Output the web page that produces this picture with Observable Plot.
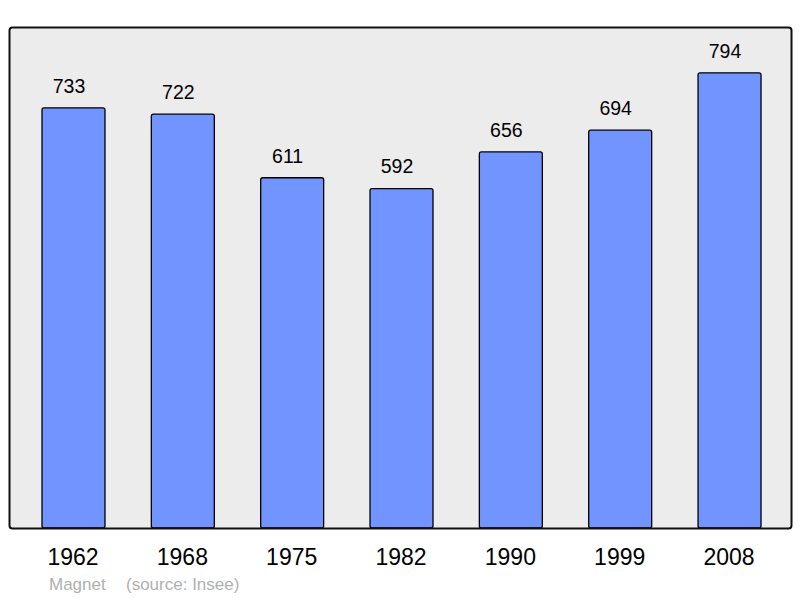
<!DOCTYPE html>
<html>
<head>
<meta charset="utf-8">
<script src="https://cdn.jsdelivr.net/npm/d3@7"></script>
<script src="https://cdn.jsdelivr.net/npm/@observablehq/plot@0.6"></script>
<style>
  body { margin: 0; background: #fff; font-family: "Liberation Sans", Arial, sans-serif; }
  #chart svg { display: block; }
  #caption { position: relative; height: 28px; color: #b0b0b0; font-size: 17px; white-space: pre; }
  #caption span { position: absolute; top: 5px; }
</style>
</head>
<body>
<div id="chart"></div>
<div id="caption"><span style="left:49px">Magnet</span><span style="left:126px">(source: Insee)</span></div>
<script>
const years = ["1962", "1968", "1975", "1982", "1990", "1999", "2008"];
const population = [733, 722, 611, 592, 656, 694, 794];

const data = years.map((y, i) => ({year: y, pop: population[i]}));

const chart = Plot.plot({
  width: 800,
  height: 570,
  marginTop: 27,
  marginBottom: 42,
  marginLeft: 9,
  marginRight: 9,
  style: {fontFamily: "Liberation Sans, Arial, sans-serif", background: "#fff"},
  x: {domain: years, paddingInner: 0.424, paddingOuter: 0.288, align: 0.524, round: false, label: null},
  y: {domain: [0, 874], axis: null},
  marks: [
    Plot.frame({fill: "#ececec", stroke: "none", rx: 3}),
    Plot.barY(data, {x: "year", y: "pop", fill: "#7194ff", stroke: "#000", strokeWidth: 1.3, rx: 2}),
    Plot.text(data, {x: "year", y: "pop", text: d => String(d.pop), dy: -22, dx: -5, fontSize: 19.5, fill: "#000"}),
    Plot.frame({stroke: "#111", strokeWidth: 2, rx: 3}),
    Plot.axisX({tickSize: 0, tickPadding: 20, dx: -1, fontSize: 23, color: "#000"})
  ]
});
document.getElementById("chart").appendChild(chart);
</script>
</body>
</html>
